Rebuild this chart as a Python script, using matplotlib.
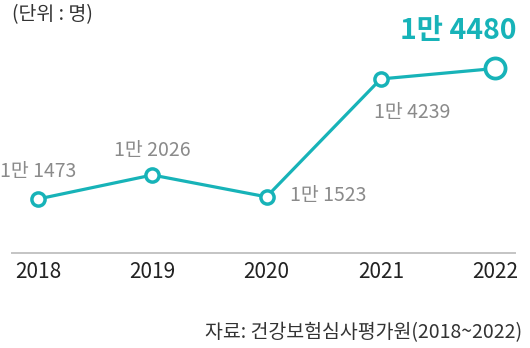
import numpy as np
import matplotlib.pyplot as plt

plt.rcParams['font.family'] = ['Noto Sans CJK KR', 'DejaVu Sans']

### Données
annees = ["2018", "2019", "2020", "2021", "2022"]
valeurs = [11473, 12026, 11523, 14239, 14480]
etiquettes = ["1만 1473", "1만 2026", "1만 1523", "1만 4239", "1만 4480"]

titre_unite = "(단위 : 명)"
source = "자료: 건강보험심사평가원(2018~2022)"

teal = "#17b3b8"
gris = "#8a8a8a"
px = 0.72  # pixels -> points a 100 dpi

fig = plt.figure(figsize=(5.3, 3.48), dpi=100)
ax = fig.add_axes([12/530, (348-252.7)/348, 503/530, 232.7/348])

x = np.arange(len(annees))
ax.plot(x[:-1], valeurs[:-1], color=teal, lw=2.3, marker='o', ms=9.5,
        mfc='white', mec=teal, mew=2.5, zorder=3)
ax.plot(x[-2:], valeurs[-2:], color=teal, lw=2.3, zorder=2)
ax.plot(x[-1], valeurs[-1], marker='o', ms=14.5, mfc='white', mec=teal,
        mew=2.7, zorder=4, ls='none')

ax.set_xlim(-0.228, 4.175)
ax.set_ylim(10236, 15597)

# Étiquettes des valeurs (décalage en pixels, alignement)
decal = [(0, 28, 'center'), (0, 25, 'center'), (23, 1, 'left'),
         (-7, -34, 'left'), (21, 37, 'right')]
for i, (dx, dy, ha) in enumerate(decal):
    if i == len(annees) - 1:
        ax.annotate(etiquettes[i], (x[i], valeurs[i]), xytext=(dx*px, dy*px),
                    textcoords='offset points', ha=ha, va='center',
                    fontsize=20.5, fontweight='bold', color=teal)
    else:
        ax.annotate(etiquettes[i], (x[i], valeurs[i]), xytext=(dx*px, dy*px),
                    textcoords='offset points', ha=ha, va='center',
                    fontsize=14, fontweight='light', color=gris)

# Axes
for s in ['top', 'right', 'left']:
    ax.spines[s].set_visible(False)
ax.spines['bottom'].set_color('#c4c4c4')
ax.spines['bottom'].set_linewidth(1.4)
ax.set_yticks([])
ax.set_xticks(x)
ax.set_xticklabels(annees, fontsize=15, color='#222222')
ax.tick_params(axis='x', length=0, pad=6)

fig.text(12/530, 1 - 15/348, titre_unite, fontsize=14, color='#333333',
         ha='left', va='center', fontweight='light')
fig.text(522/530, 1 - 333/348, source, fontsize=14, color='#333333',
         ha='right', va='center', fontweight='light')

plt.savefig('out.png', dpi=100)
plt.close()
